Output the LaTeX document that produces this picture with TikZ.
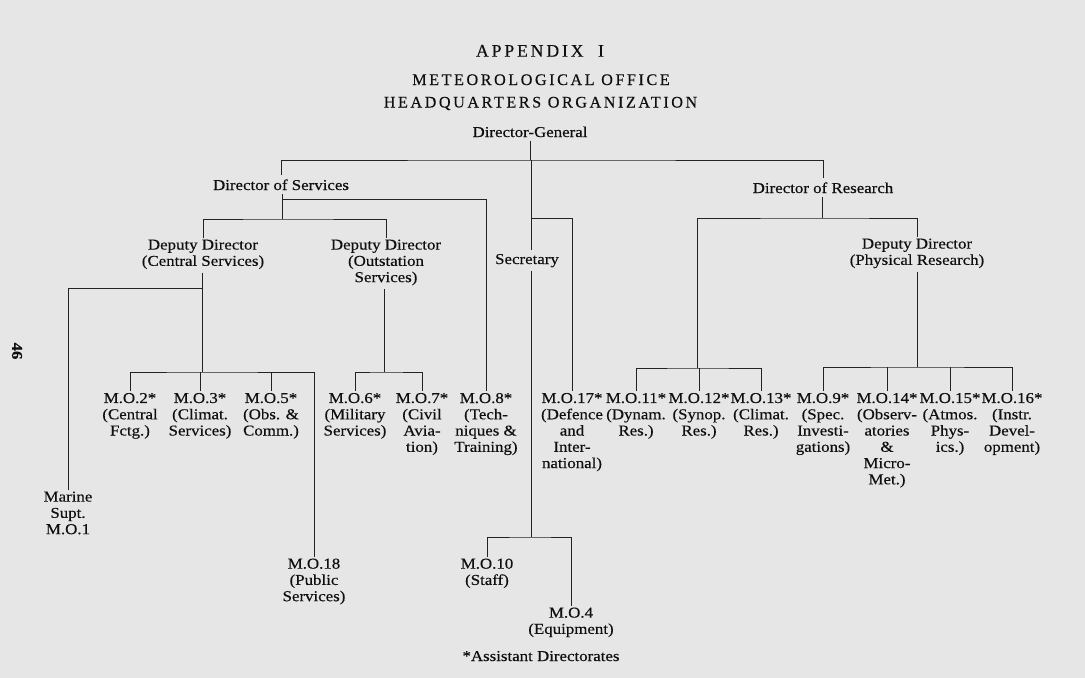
\documentclass[tikz,border=0pt]{standalone}
\usepackage{fontspec}
\setmainfont{Liberation Serif}[FakeStretch=1.12,FakeBold=0.35]
\newfontfamily\titlefont{Liberation Serif}[LetterSpace=16,FakeBold=0.35]
\newcommand\bodyf{\fontsize{11.3pt}{12.2pt}\selectfont}
\newcommand\ttlf{\titlefont\fontsize{12.1pt}{14pt}\selectfont}
\newcommand\ttlbig{\titlefont\fontsize{13.3pt}{15pt}\selectfont}
\definecolor{bgc}{RGB}{230,230,230}
\definecolor{ink}{RGB}{15,15,15}
\definecolor{rule}{RGB}{35,35,35}
\tikzset{
  lbl/.style={anchor=north, inner sep=0pt, outer sep=1.5pt, align=center, font=\bodyf, text=ink,
              execute at begin node=\strut, execute at end node=\strut},
  one/.style={anchor=base, inner sep=0pt, outer sep=3pt, font=\bodyf, text=ink},
  ttl/.style={anchor=base, inner sep=0pt, text=ink},
  conn/.style={draw=rule, line width=0.75pt}
}
\begin{document}
\begin{tikzpicture}[x=0.75pt,y=-0.75pt]
\fill[bgc] (0,0) rectangle (1085,678);
\useasboundingbox (0,0) rectangle (1085,678);
% titles
\node[ttl,font=\ttlbig] (t1) at (540,56.7) {APPENDIX\ \ I};
\node[ttl,font=\ttlf] (t2) at (541,85) {METEOROLOGICAL OFFICE};
\node[ttl,font=\ttlf] (t3) at (540.5,107.5) {HEADQUARTERS ORGANIZATION};
\node[rotate=-90,inner sep=0pt,font=\bodyf\bfseries,text=ink] (pg) at (17,351) {46};
% upper level
\node[one] (dg) at (530,137) {Director-General};
\node[one] (ds) at (281,190) {Director of Services};
\node[one] (dr) at (823,193) {Director of Research};
\node[one] (sec) at (527,264) {Secretary};
\node[lbl] (ddc) at (203,237.6) {Deputy Director\\(Central Services)};
\node[lbl] (ddo) at (386,237.6) {Deputy Director\\(Outstation\\Services)};
\node[lbl] (ddp) at (917,236.6) {Deputy Director\\(Physical Research)};
% M.O. row
\node[lbl] (mo2) at (130,391) {M.O.2*\\(Central\\Fctg.)};
\node[lbl] (mo3) at (200,391) {M.O.3*\\(Climat.\\Services)};
\node[lbl] (mo5) at (271,391) {M.O.5*\\(Obs. \&\\Comm.)};
\node[lbl] (mo6) at (355,391) {M.O.6*\\(Military\\Services)};
\node[lbl] (mo7) at (422,391) {M.O.7*\\(Civil\\Avia-\\tion)};
\node[lbl] (mo8) at (486,391) {M.O.8*\\(Tech-\\niques \&\\Training)};
\node[lbl] (mo17) at (572,391) {M.O.17*\\(Defence\\and\\Inter-\\national)};
\node[lbl] (mo11) at (636,391) {M.O.11*\\(Dynam.\\Res.)};
\node[lbl] (mo12) at (699,391) {M.O.12*\\(Synop.\\Res.)};
\node[lbl] (mo13) at (761,391) {M.O.13*\\(Climat.\\Res.)};
\node[lbl] (mo9) at (823,391) {M.O.9*\\(Spec.\\Investi-\\gations)};
\node[lbl] (mo14) at (887,391) {M.O.14*\\(Observ-\\atories\\\&\\Micro-\\Met.)};
\node[lbl] (mo15) at (950,391) {M.O.15*\\(Atmos.\\Phys-\\ics.)};
\node[lbl] (mo16) at (1012,391) {M.O.16*\\(Instr.\\Devel-\\opment)};
% lower
\node[lbl] (marine) at (68,489.6) {Marine\\Supt.\\M.O.1};
\node[lbl] (mo18) at (314,556.6) {M.O.18\\(Public\\Services)};
\node[lbl] (mo10) at (487,556.6) {M.O.10\\(Staff)};
\node[lbl] (mo4) at (571,605.6) {M.O.4\\(Equipment)};
\node[one] (foot) at (541,661) {*Assistant Directorates};
% junctions
\coordinate (j0) at (531,160);
\coordinate (j17) at (531,218);
\coordinate (jt) at (531,537);
\coordinate (j8) at (282,199);
\coordinate (jds) at (282,219);
\coordinate (jm) at (202,288);
\coordinate (jc) at (202,372);
\coordinate (jo) at (384,372);
\coordinate (jr) at (822,218);
\coordinate (jl) at (697,368);
\coordinate (jp) at (917,367);
% connectors
\draw[conn] (dg.south) -- (dg.south |- j0);
\draw[conn] (ds.north) |- (j0) -| (dr.north);
\draw[conn] (j0) -- (j0 |- sec.north);
\draw[conn] (sec.south -| jt) -- (jt);
\draw[conn] (mo10.north) |- (jt) -| (mo4.north);
\draw[conn] (j17) -| (mo17.north);
\draw[conn] (ds.south -| jds) -- (jds);
\draw[conn] (j8) -| (mo8.north);
\draw[conn] (ddc.north) |- (jds) -| (ddo.north);
\draw[conn] (ddc.south -| jc) -- (jc);
\draw[conn] (jm) -| (marine.north);
\draw[conn] (mo2.north) |- (jc) -| (mo18.north);
\draw[conn] (mo3.north) -- (mo3.north |- jc);
\draw[conn] (mo5.north) -- (mo5.north |- jc);
\draw[conn] (ddo.south -| jo) -- (jo);
\draw[conn] (mo6.north) |- (jo) -| (mo7.north);
\draw[conn] (dr.south -| jr) -- (jr);
\draw[conn] (jl) |- (jr) -| (ddp.north);
\draw[conn] (mo11.north) |- (jl) -| (mo13.north);
\draw[conn] (mo12.north) -- (mo12.north |- jl);
\draw[conn] (ddp.south -| jp) -- (jp);
\draw[conn] (mo9.north) |- (jp) -| (mo16.north);
\draw[conn] (mo14.north) -- (mo14.north |- jp);
\draw[conn] (mo15.north) -- (mo15.north |- jp);
\end{tikzpicture}
\end{document}
